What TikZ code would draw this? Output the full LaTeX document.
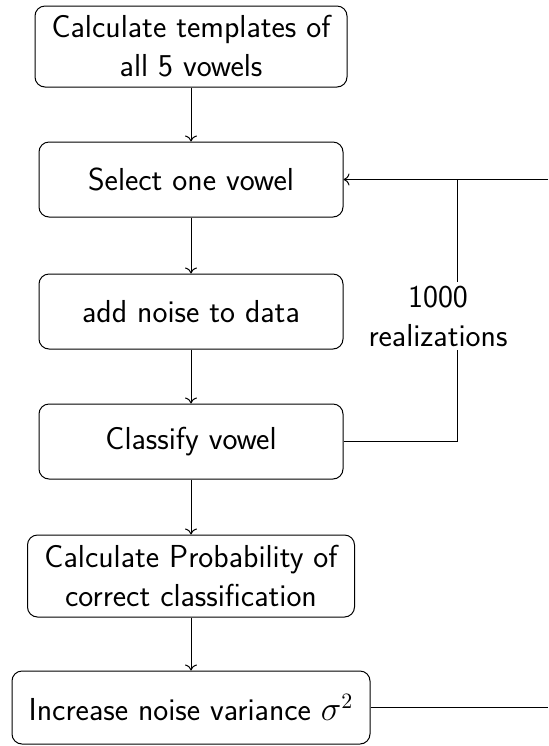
\documentclass[tikz,border=0pt]{standalone}
\usetikzlibrary{arrows.meta}
\begin{document}
\begin{tikzpicture}[x=0.5pt, y=-0.5pt,
  font=\sffamily\fontsize{15.9}{19.5}\selectfont,
  line width=0.5pt,
  >={Computer Modern Rightarrow[length=3pt, width=6pt]},
  box/.style={draw, rounded corners=5pt, align=center, inner xsep=6pt, inner ysep=4pt},
  onebox/.style={box, minimum width=152pt, minimum height=37.5pt},
  flow/.style={->}]
\useasboundingbox (0,0) rectangle (548,746);

% process steps
\node[box, minimum width=156pt, minimum height=40.5pt] (tmpl) at (191,46.5) {Calculate templates of\\all 5 vowels};
\node[onebox] (sel) at (191,179.5) {Select one vowel};
\node[onebox] (noise) at (191,311.5) {add noise to data};
\node[onebox] (cls) at (191,441.5) {Classify vowel};
\node[box, minimum width=163.5pt, minimum height=41pt] (prob) at (191,576) {Calculate Probability of\\correct classification};
\node[box, minimum width=179pt, minimum height=36.5pt] (inc) at (191,707.5) {Increase noise variance $\sigma^2$};

% vertical flow
\draw[flow] (tmpl) -- (sel);
\draw[flow] (sel) -- (noise);
\draw[flow] (noise) -- (cls);
\draw[flow] (cls) -- (prob);
\draw[flow] (prob) -- (inc);

% inner loop over realizations
\coordinate (join) at (457,179.5);
\coordinate (outin) at (548,179.5);
\coordinate (outout) at (548,707.5);
\draw (cls.east) -| (join);
\draw[flow] (outin) -- (sel.east);
\node[fill=white, align=center, inner sep=2pt] (reps) at (438,316) {1000\\realizations};

% outer loop over noise levels
\draw (inc.east) -- (outout);
\end{tikzpicture}
\end{document}
